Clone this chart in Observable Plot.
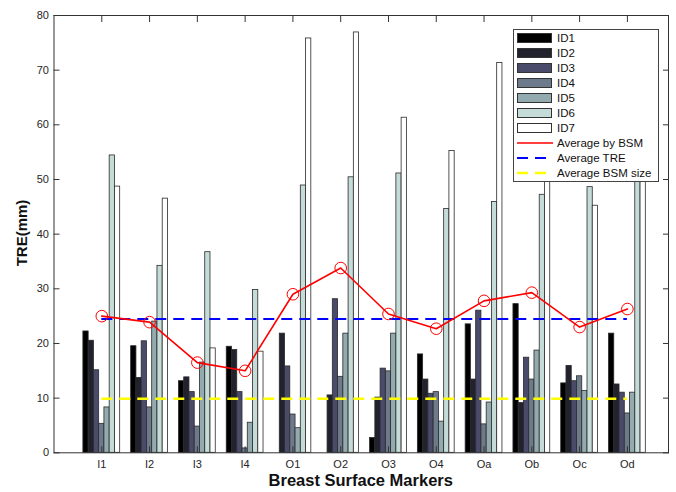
<!DOCTYPE html>
<html><head><meta charset="utf-8">
<script src="https://cdn.jsdelivr.net/npm/d3@7"></script>
<script src="https://cdn.jsdelivr.net/npm/@observablehq/plot@0.6"></script>
<style>
body{margin:0;background:#fff;font-family:"Liberation Sans",Arial,sans-serif;}
#wrap{position:relative;width:676px;height:492px;overflow:hidden;}
#legend{position:absolute;left:513px;top:29px;width:146px;height:153px;border:1px solid #444;background:#fff;box-sizing:border-box;}
.row{position:absolute;left:3px;height:15px;width:140px;}
.sw{position:absolute;left:0;top:2px;width:35px;height:10px;border:1px solid #333;box-sizing:border-box;}
.lt{position:absolute;left:40px;top:0;font-size:11.5px;line-height:15px;color:#111;white-space:nowrap;}
.ls{position:absolute;left:0;top:2px;}
#xt{position:absolute;left:53.5px;width:614.5px;top:471px;text-align:center;font-weight:bold;font-size:16.5px;color:#111;}
#yt{position:absolute;left:21px;top:233px;transform:translate(-50%,-50%) rotate(-90deg);font-weight:bold;font-size:15px;color:#111;white-space:nowrap;}
</style></head>
<body>
<div id="wrap">
<div id="chart"></div>
<div id="xt">Breast Surface Markers</div>
<div id="yt">TRE(mm)</div>
<div id="legend"></div>
</div>
<script>
const markers = ["I1","I2","I3","I4","O1","O2","O3","O4","Oa","Ob","Oc","Od"];
const ids = ["ID1","ID2","ID3","ID4","ID5","ID6","ID7"];
const idColors = ["#000000","#22222f","#4a4a6b","#6d7a8c","#93aaae","#c5dbd8","#ffffff"];
const id1 = [22.2, 19.5, 13.1, 19.4, null, null, 2.7, 18.0, 23.5, 27.2, 12.7, 21.8];
const id2 = [20.5, 13.7, 13.8, 18.8, 21.8, 10.5, 10.1, 13.4, 13.4, 9.1, 15.9, 12.5];
const id3 = [15.1, 20.4, 11.1, 11.1, 15.8, 28.1, 15.4, 10.8, 26.0, 17.4, 13.1, 11.0];
const id4 = [5.3, 8.3, 4.8, 0.8, 7.0, 13.9, 14.9, 11.1, 5.2, 13.4, 14.0, 7.2];
const id5 = [8.3, 24.0, 16.5, 5.5, 4.5, 21.8, 21.8, 5.7, 9.2, 18.7, 11.3, 11.0];
const id6 = [54.4, 34.2, 36.7, 29.8, 48.9, 50.4, 51.1, 44.6, 45.9, 47.2, 48.6, 53.0];
const id7 = [48.7, 46.5, 19.1, 18.5, 75.8, 76.9, 61.3, 55.2, 71.3, 72.0, 45.2, 67.6];
const avgByBSM = [25.0, 23.9, 16.5, 15.0, 29.0, 33.8, 25.4, 22.7, 27.8, 29.3, 23.0, 26.3];
const avgTRE = 24.5;
const avgBSMsize = 9.9;
const yTicks = [0,10,20,30,40,50,60,70,80];

const series = [id1,id2,id3,id4,id5,id6,id7];
const barStep = 0.11;
const bars = [];
markers.forEach((m,i) => series.forEach((s,j) => {
  if (s[i] != null) bars.push({marker:m, pos:i+1, j, id:ids[j], value:s[i]});
}));
const avgRows = markers.map((m,i) => ({marker:m, pos:i+1, v:avgByBSM[i]}));
const xTicks = markers.map((m,i) => i+1);

const chart = Plot.plot({
  width: 676, height: 492,
  marginLeft: 53.5, marginRight: 8, marginTop: 15, marginBottom: 39.7,
  style: {fontFamily: "Liberation Sans, Arial, sans-serif", fontSize: "11px", color: "#262626", background: "#fff"},
  x: {type: "linear", domain: [0, 12.86], axis: null},
  y: {domain: [0, 80], axis: null},
  color: {domain: ids, range: idColors},
  marks: [
    Plot.rect(bars, {
      x1: d => d.pos + (d.j - 3.5) * barStep,
      x2: d => d.pos + (d.j - 2.5) * barStep,
      y1: 0, y2: "value",
      fill: "id", stroke: "#2a2a2a", strokeWidth: 0.8
    }),
    Plot.ruleY([avgBSMsize], {x1: 1, x2: markers.length, stroke: "#ffff00", strokeWidth: 2.5, strokeDasharray: "11,7"}),
    Plot.ruleY([avgTRE], {x1: 1, x2: markers.length, stroke: "#0000ff", strokeWidth: 2, strokeDasharray: "11,7"}),
    Plot.line(avgRows, {x: "pos", y: "v", stroke: "#ff0000", strokeWidth: 1.6}),
    Plot.dot(avgRows, {x: "pos", y: "v", r: 5.8, stroke: "#ff0000", strokeWidth: 1, fill: "none"}),
    Plot.axisY({anchor: "left", ticks: yTicks, tickSize: -6, tickPadding: 11, label: null, fontSize: 11, stroke: "#333"}),
    Plot.axisY({anchor: "right", ticks: yTicks, tickSize: -6, tickFormat: () => "", label: null, stroke: "#333"}),
    Plot.axisX({anchor: "bottom", ticks: xTicks, tickSize: -6, tickPadding: 13, tickFormat: p => markers[p-1], label: null, fontSize: 11, stroke: "#333"}),
    Plot.axisX({anchor: "top", ticks: xTicks, tickSize: -6, tickFormat: () => "", label: null, stroke: "#333"}),
    Plot.frame({stroke: "#333", strokeWidth: 1})
  ]
});
document.getElementById("chart").appendChild(chart);

// legend
const lg = document.getElementById("legend");
const entries = ids.map((id,j) => ({label:id, type:"swatch", color:idColors[j]}))
  .concat([
    {label:"Average by BSM", type:"line", color:"#ff0000", dash:null, w:1.6},
    {label:"Average TRE", type:"line", color:"#0000ff", dash:"11,7", w:2},
    {label:"Average BSM size", type:"line", color:"#ffff00", dash:"11,7", w:2.5}
  ]);
entries.forEach((e,k) => {
  const row = document.createElement("div");
  row.className = "row";
  row.style.top = (0.5 + k*15) + "px";
  if (e.type === "swatch") {
    const sw = document.createElement("div");
    sw.className = "sw"; sw.style.background = e.color;
    row.appendChild(sw);
  } else {
    const ns = "http://www.w3.org/2000/svg";
    const s = document.createElementNS(ns, "svg");
    s.setAttribute("width", 36); s.setAttribute("height", 10);
    s.setAttribute("class", "ls");
    const l = document.createElementNS(ns, "line");
    l.setAttribute("x1", 0); l.setAttribute("x2", 36);
    l.setAttribute("y1", 5); l.setAttribute("y2", 5);
    l.setAttribute("stroke", e.color); l.setAttribute("stroke-width", e.w);
    if (e.dash) l.setAttribute("stroke-dasharray", e.dash);
    s.appendChild(l); row.appendChild(s);
  }
  const t = document.createElement("div");
  t.className = "lt"; t.textContent = e.label;
  row.appendChild(t);
  lg.appendChild(row);
});
</script>
</body></html>
